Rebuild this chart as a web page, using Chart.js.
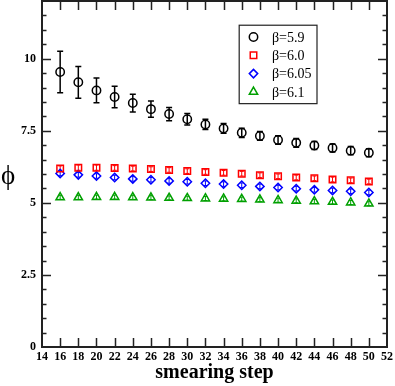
<!DOCTYPE html>
<html>
<head>
<meta charset="UTF-8">
<title>phi vs smearing step</title>
<script src="https://cdn.jsdelivr.net/npm/chart.js@4"></script>
<style>
  *{padding: 0; margin: 0;}
  body{background: #fff;}
  #wrap{width: 395px; height: 386px;}
</style>
</head>
<body>
<div id="wrap"><canvas id="myChart" width="395" height="386"></canvas></div>
<script>
// smearing steps (x)
const steps = [16,18,20,22,24,26,28,30,32,34,36,38,40,42,44,46,48,50];

// beta = 5.9
const phi59 = [9.54,9.18,8.90,8.67,8.46,8.25,8.08,7.90,7.72,7.58,7.43,7.32,7.18,7.08,6.99,6.90,6.81,6.74];
const err59 = [0.72,0.55,0.43,0.37,0.31,0.28,0.23,0.20,0.18,0.17,0.16,0.15,0.15,0.15,0.14,0.14,0.14,0.14];
// beta = 6.0
const phi60 = [6.19,6.22,6.22,6.21,6.19,6.17,6.14,6.10,6.07,6.04,6.01,5.96,5.92,5.88,5.85,5.81,5.78,5.74];
const err60 = [0.09,0.09,0.09,0.08,0.08,0.08,0.08,0.08,0.08,0.08,0.08,0.08,0.08,0.08,0.08,0.08,0.08,0.08];
// beta = 6.05
const phi605 = [6.02,5.97,5.93,5.88,5.83,5.80,5.76,5.73,5.68,5.65,5.61,5.57,5.53,5.49,5.45,5.43,5.40,5.36];
const err605 = [0.08,0.08,0.08,0.08,0.08,0.08,0.08,0.08,0.08,0.08,0.08,0.08,0.08,0.08,0.08,0.08,0.08,0.08];
// beta = 6.1
const phi61 = [5.19,5.19,5.20,5.20,5.19,5.18,5.17,5.16,5.15,5.14,5.13,5.11,5.09,5.07,5.05,5.03,5.01,4.97];
const err61 = [0.07,0.07,0.07,0.07,0.07,0.07,0.07,0.07,0.07,0.07,0.07,0.07,0.07,0.07,0.07,0.07,0.07,0.07];

const legendLabels = ['β=5.9','β=6.0','β=6.05','β=6.1'];
const yTicks = [0,2.5,5,7.5,10];
const yMinorStep = 0.5;
const xMin = 14, xMax = 52, xStep = 2;
const yMin = 0, yMax = 12;

function pts(ys, es){
  let out = [];
  for(let i=0;i<steps.length;i++){
    out.push({x: steps[i], y: ys[i], e: es[i]});
  }
  return out;
}

const serif = '"Liberation Serif", "DejaVu Serif", serif';

// error bars, ticks, frame, labels
const decor = {
  id: 'decor',
  beforeDatasetsDraw(chart){
    const ctx = chart.ctx;
    const xs = chart.scales.x, ys = chart.scales.y;
    chart.data.datasets.forEach(ds => {
      ctx.save();
      ctx.strokeStyle = ds.borderColor;
      ctx.lineWidth = ds.errWidth;
      ds.data.forEach(p => {
        const px = xs.getPixelForValue(p.x);
        const top = ys.getPixelForValue(p.y + p.e);
        const bot = ys.getPixelForValue(p.y - p.e);
        const c = ds.capHalf;
        ctx.beginPath();
        ctx.moveTo(px, top); ctx.lineTo(px, bot);
        ctx.moveTo(px - c, top); ctx.lineTo(px + c, top);
        ctx.moveTo(px - c, bot); ctx.lineTo(px + c, bot);
        ctx.stroke();
      });
      ctx.restore();
    });
  },
  afterDraw(chart){
    const ctx = chart.ctx;
    const a = chart.chartArea;
    const xs = chart.scales.x, ys = chart.scales.y;
    ctx.save();
    ctx.strokeStyle = '#222';
    ctx.lineWidth = 1.5;
    // x ticks (bottom + top, inward)
    ctx.beginPath();
    for(let v = xMin + xStep; v < xMax; v += xStep){
      const px = Math.round(xs.getPixelForValue(v)) + 0.5;
      ctx.moveTo(px, a.bottom); ctx.lineTo(px, a.bottom - 9);
      ctx.moveTo(px, a.top); ctx.lineTo(px, a.top + 9);
    }
    // y ticks (left + right, inward)
    for(let v = yMin + yMinorStep; v < yMax - 0.01; v += yMinorStep){
      const major = yTicks.some(t => Math.abs(t - v) < 1e-6);
      const len = major ? 9 : 4.5;
      const py = Math.round(ys.getPixelForValue(v)) + 0.5;
      ctx.moveTo(a.left, py); ctx.lineTo(a.left + len, py);
      ctx.moveTo(a.right, py); ctx.lineTo(a.right - len, py);
    }
    ctx.stroke();
    // frame
    ctx.lineWidth = 2;
    ctx.strokeRect(a.left, a.top, a.right - a.left, a.bottom - a.top);

    // y axis label (upright)
    ctx.fillStyle = '#000';
    ctx.font = '27px ' + serif;
    ctx.textAlign = 'center';
    ctx.textBaseline = 'middle';
    ctx.fillText('ϕ', 8, (a.top + a.bottom) / 2 + 3);

    // legend box
    const lx = xs.getPixelForValue(35.72), rx = xs.getPixelForValue(44.29);
    const ty = ys.getPixelForValue(11.16), by = ys.getPixelForValue(8.44);
    ctx.lineWidth = 1.2;
    ctx.strokeStyle = '#222';
    ctx.strokeRect(lx, ty, rx - lx, by - ty);
    ctx.font = '14px ' + serif;
    ctx.textAlign = 'left';
    chart.data.datasets.forEach((ds, i) => {
      const yy = ty + 11.8 + i * 18.3;
      ctx.save();
      ctx.strokeStyle = ds.borderColor;
      ctx.fillStyle = 'rgba(0,0,0,0)';
      ctx.lineWidth = ds.borderWidth;
      Chart.helpers.drawPoint(ctx, {pointStyle: ds.pointStyle, radius: ds.pointRadius, rotation: 0, borderWidth: ds.borderWidth}, lx + 14.3, yy);
      ctx.restore();
      ctx.fillStyle = '#000';
      ctx.fillText(legendLabels[i], lx + 32.7, yy + 1);
    });
    ctx.restore();
  }
};

const ctx = document.getElementById('myChart');
new Chart(ctx, {
  type: 'scatter',
  data: {
    datasets: [
      {label: legendLabels[0], data: pts(phi59, err59), pointStyle: 'circle', pointRadius: 4.2, borderColor: '#000', backgroundColor: 'rgba(0,0,0,0)', borderWidth: 1.5, errWidth: 1.5, capHalf: 3},
      {label: legendLabels[1], data: pts(phi60, err60), pointStyle: 'rect', pointRadius: 4.6, borderColor: '#ff0000', backgroundColor: 'rgba(0,0,0,0)', borderWidth: 1.5, errWidth: 1, capHalf: 2},
      {label: legendLabels[2], data: pts(phi605, err605), pointStyle: 'rectRot', pointRadius: 4.2, borderColor: '#0000ff', backgroundColor: 'rgba(0,0,0,0)', borderWidth: 1.5, errWidth: 1, capHalf: 2},
      {label: legendLabels[3], data: pts(phi61, err61), pointStyle: 'triangle', pointRadius: 4.8, borderColor: '#00a000', backgroundColor: 'rgba(0,0,0,0)', borderWidth: 1.5, errWidth: 1, capHalf: 2}
    ]
  },
  options: {
    responsive: false,
    animation: false,
    layout: {autoPadding: false, padding: {left: 0, top: 1, right: 8, bottom: 0}},
    plugins: {legend: {display: false}, tooltip: {enabled: false}},
    elements: {point: {hoverRadius: 4}},
    scales: {
      x: {
        type: 'linear', min: xMin, max: xMax,
        grid: {display: false, drawTicks: false},
        border: {display: false},
        ticks: {stepSize: xStep, autoSkip: false, maxRotation: 0, padding: 3, color: '#000',
                font: {family: serif, size: 12, weight: 'bold'}},
        title: {display: true, text: 'smearing step', color: '#000', padding: {top: 0, bottom: 1},
                font: {family: serif, size: 20, weight: 'bold'}},
        afterFit: s => { s.height = 39; s.paddingLeft = 0; s.paddingRight = 0; }
      },
      y: {
        type: 'linear', min: yMin, max: yMax,
        grid: {display: false, drawTicks: false},
        border: {display: false},
        afterBuildTicks: s => { s.ticks = yTicks.map(v => ({value: v})); },
        ticks: {padding: 6, color: '#000', font: {family: serif, size: 12, weight: 'bold'}},
        afterFit: s => { s.width = 42; s.paddingTop = 0; s.paddingBottom = 0; }
      }
    }
  },
  plugins: [decor]
});
</script>
</body>
</html>
